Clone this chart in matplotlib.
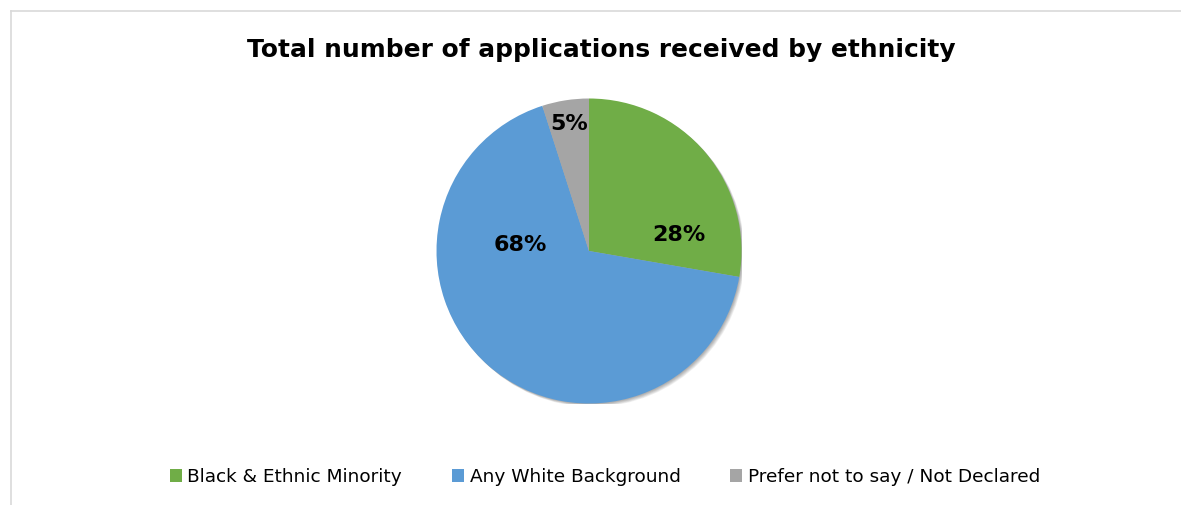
import matplotlib
matplotlib.use("Agg")
import matplotlib.pyplot as plt
from matplotlib.patches import Patch, Circle
from matplotlib.lines import Line2D
import numpy as np

categories = ["Black & Ethnic Minority", "Any White Background", "Prefer not to say / Not Declared"]
values = [28, 68, 5]
labels = ["28%", "68%", "5%"]
colors = ["#70AD47", "#5B9BD5", "#A5A5A5"]
title = "Total number of applications received by ethnicity"

W, H = 1181, 505
fig = plt.figure(figsize=(W / 100, H / 100), dpi=100)
fig.patch.set_facecolor("white")

# chart-area border (left and top visible)
fig.add_artist(Line2D([10.5 / W, 10.5 / W], [0, 1 - 11 / H], color="#D9D9D9", lw=1.2))
fig.add_artist(Line2D([10.5 / W, 1], [1 - 11 / H, 1 - 11 / H], color="#D9D9D9", lw=1.2))

cx, cy, r = 589, 251, 152.5
ax = fig.add_axes([(cx - r) / W, (H - cy - r) / H, 2 * r / W, 2 * r / H])

# soft shadow beneath the pie
for k, off in enumerate(np.linspace(0.004, 0.022, 6)):
    ax.add_patch(Circle((off, -off), 1.0, facecolor="black", edgecolor="none",
                        alpha=0.06, zorder=0))

wedges, _ = ax.pie(values, colors=colors, startangle=90, counterclock=False,
                   radius=1.0, wedgeprops=dict(linewidth=0, zorder=2))
ax.set_xlim(-1.0, 1.0)
ax.set_ylim(-1.0, 1.0)
ax.set_aspect("equal")
ax.axis("off")

# label positions (angle deg, radius fraction)
label_pos = [(10, 0.6), (175, 0.45), (99, 0.84)]
for lab, (ang, rf) in zip(labels, label_pos):
    a = np.deg2rad(ang)
    ax.text(rf * np.cos(a), rf * np.sin(a), lab, ha="center", va="center",
            fontsize=16, fontweight="bold", color="black", zorder=5)

fig.text(601 / W, 1 - 50 / H, title, ha="center", va="center",
         fontsize=17.9, fontweight="bold", color="black")

handles = [Patch(facecolor=c, edgecolor="none") for c in colors]
fig.legend(handles, categories, loc="center", bbox_to_anchor=(605 / W, 1 - 477 / H),
           ncol=3, frameon=False, fontsize=13.3, handlelength=0.65, handleheight=0.65,
           handletextpad=0.3, columnspacing=2.7)

fig.savefig("out.png", dpi=100, facecolor="white")
